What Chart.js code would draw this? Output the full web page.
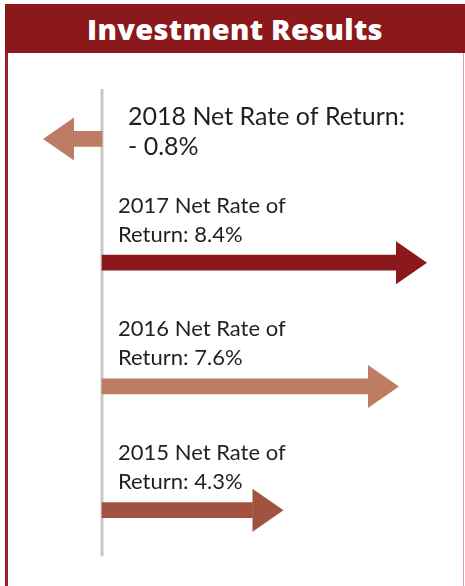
<!DOCTYPE html>
<html>
<head>
<meta charset="utf-8">
<script src="https://cdn.jsdelivr.net/npm/chart.js@4/dist/chart.umd.min.js"></script>
<style>
  html, body { margin: 0; padding: 0; background: #ffffff; }
  #wrap { position: relative; width: 465px; height: 586px; overflow: hidden; background: #fff; }
  #header {
    position: absolute; left: 5px; top: 4px; width: 460px; height: 49px;
    background: #8B181B; color: #ffffff; text-align: center;
    font-family: "Open Sans", sans-serif; font-weight: 800; font-size: 29px;
    line-height: 49px; letter-spacing: 0.3px;
  }
  #leftBorder { position: absolute; left: 5px; top: 53px; width: 3px; height: 533px; background: #9E1F24; }
  #rightBorder { position: absolute; left: 463px; top: 53px; width: 1px; height: 533px; background: #D9A3A3; }
  canvas { position: absolute; left: 0; top: 0; }
</style>
</head>
<body>
<div id="wrap">
  <canvas id="c" width="465" height="586"></canvas>
  <div id="header">Investment Results</div>
  <div id="leftBorder"></div>
  <div id="rightBorder"></div>
</div>
<script>
// ---- data ----
const years = ['2018', '2017', '2016', '2015'];
const netReturns = [-0.8, 8.4, 7.6, 4.3];
const arrowColors = ['#BC7D64', '#8B181B', '#BC7D64', '#A05440'];

function fmtReturn(v) {
  return (v < 0 ? '- ' + Math.abs(v).toFixed(1) : v.toFixed(1)) + '%';
}

const arrowPlugin = {
  id: 'arrowPlugin',
  beforeDatasetsDraw(chart) {
    const ctx = chart.ctx;
    const xs = chart.scales.x, ys = chart.scales.y;
    const x0 = xs.getPixelForValue(0);
    const yTop = ys.getPixelForValue(0) - 50;
    const yBot = ys.getPixelForValue(years.length - 1) + 46;
    ctx.save();
    ctx.strokeStyle = '#C8C8CA';
    ctx.lineWidth = 3;
    ctx.beginPath();
    ctx.moveTo(x0, yTop);
    ctx.lineTo(x0, yBot);
    ctx.stroke();
    ctx.restore();
  },
  afterDatasetsDraw(chart) {
    const ctx = chart.ctx;
    const meta = chart.getDatasetMeta(0);
    const xs = chart.scales.x;
    const x0 = xs.getPixelForValue(0);
    ctx.save();
    meta.data.forEach((bar, i) => {
      const v = netReturns[i];
      const dir = v >= 0 ? 1 : -1;
      const half = 21.5, len = 31;
      ctx.fillStyle = arrowColors[i];
      ctx.beginPath();
      ctx.moveTo(bar.x, bar.y - half);
      ctx.lineTo(bar.x + dir * len, bar.y);
      ctx.lineTo(bar.x, bar.y + half);
      ctx.closePath();
      ctx.fill();

      ctx.fillStyle = '#231F20';
      ctx.textAlign = 'left';
      ctx.textBaseline = 'alphabetic';
      if (v < 0) {
        ctx.font = '25px Lato, sans-serif';
        ctx.fillText(years[i] + ' Net Rate of Return:', x0 + 26, bar.y - 14);
        ctx.fillText(fmtReturn(v), x0 + 26, bar.y + 16);
      } else {
        ctx.font = '22px Lato, sans-serif';
        ctx.fillText(years[i] + ' Net Rate of', x0 + 16, bar.y - 50);
        ctx.fillText('Return: ' + fmtReturn(v), x0 + 16, bar.y - 21);
      }
    });
    ctx.restore();
  }
};

new Chart(document.getElementById('c'), {
  type: 'bar',
  data: {
    labels: years,
    datasets: [{
      data: netReturns,
      backgroundColor: arrowColors,
      borderWidth: 0,
      barThickness: 15
    }]
  },
  options: {
    indexAxis: 'y',
    responsive: false,
    devicePixelRatio: 1,
    animation: false,
    layout: { padding: { left: 14.5, right: 13, top: 77, bottom: 14 } },
    plugins: { legend: { display: false }, tooltip: { enabled: false }, title: { display: false } },
    scales: {
      x: { type: 'linear', min: -2.5, max: 10, display: false },
      y: { type: 'category', display: false, offset: true }
    }
  },
  plugins: [arrowPlugin]
});
</script>
</body>
</html>
